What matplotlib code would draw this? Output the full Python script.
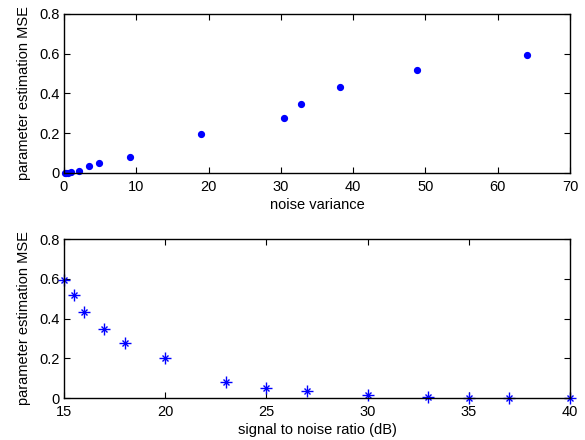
import matplotlib
matplotlib.use("Agg")
import matplotlib.pyplot as plt

plt.rcParams['font.family'] = ['Liberation Sans', 'DejaVu Sans']

noise_var = [0.1, 0.25, 0.5, 0.93, 2.07, 3.4, 4.9, 9.1, 19.0, 30.4, 32.8, 38.2, 48.8, 64.1]
mse_var = [0.001, 0.001, 0.002, 0.005, 0.012, 0.035, 0.05, 0.08, 0.198, 0.278, 0.347, 0.433, 0.518, 0.592]

snr = [15, 15.5, 16, 17, 18, 20, 23, 25, 27, 30, 33, 35, 37, 40]
mse_snr = [0.594, 0.518, 0.434, 0.349, 0.279, 0.203, 0.079, 0.052, 0.035, 0.013, 0.007, 0.002, 0.001, 0.0005]

fig = plt.figure(figsize=(5.85, 4.4), dpi=100)
W, H = 585, 440
ax1 = fig.add_axes([64 / W, 1 - 173 / H, (570 - 64) / W, (173 - 14) / H])
ax2 = fig.add_axes([64 / W, 1 - 398 / H, (570 - 64) / W, (398 - 239) / H])

FS = 10.5

ax1.plot(noise_var, mse_var, linestyle='none', marker='o', markersize=4.2,
         color='blue', clip_on=False)
ax1.set_xlim(0, 70)
ax1.set_ylim(0, 0.8)
ax1.set_xticks(range(0, 71, 10))
ax1.set_yticks([0, 0.2, 0.4, 0.6, 0.8])
ax1.set_yticklabels(['0', '0.2', '0.4', '0.6', '0.8'])
ax1.set_xlabel('noise variance', fontsize=FS, labelpad=3)
ax1.set_ylabel('parameter estimation MSE', fontsize=FS, labelpad=6)

ax2.plot(snr, mse_snr, linestyle='none', marker='+', markersize=8, markeredgewidth=1.0,
         color='blue', clip_on=False)
ax2.plot(snr, mse_snr, linestyle='none', marker='x', markersize=5, markeredgewidth=1.0,
         color='blue', clip_on=False)
ax2.set_xlim(15, 40)
ax2.set_ylim(0, 0.8)
ax2.set_xticks(range(15, 41, 5))
ax2.set_yticks([0, 0.2, 0.4, 0.6, 0.8])
ax2.set_yticklabels(['0', '0.2', '0.4', '0.6', '0.8'])
ax2.set_xlabel('signal to noise ratio (dB)', fontsize=FS, labelpad=3)
ax2.set_ylabel('parameter estimation MSE', fontsize=FS, labelpad=6)

for ax in (ax1, ax2):
    ax.tick_params(direction='in', top=True, right=True, labelsize=FS, length=4, width=0.8)
    ax.tick_params(axis='x', pad=5)
    ax.tick_params(axis='y', pad=3)
    for s in ax.spines.values():
        s.set_linewidth(1.0)

fig.savefig('out.png', dpi=100)
